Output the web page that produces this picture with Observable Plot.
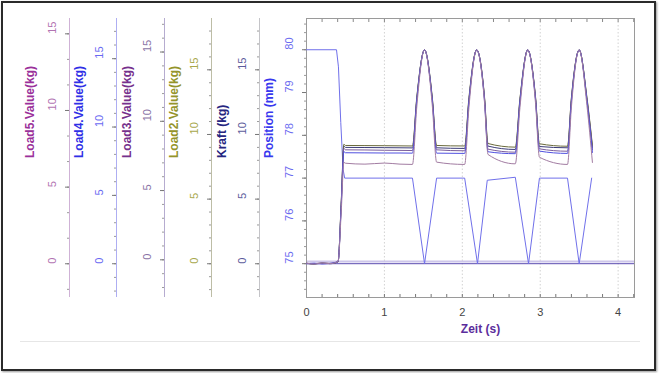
<!DOCTYPE html>
<html><head><meta charset="utf-8">
<script src="https://cdn.jsdelivr.net/npm/d3@7"></script>
<script src="https://cdn.jsdelivr.net/npm/@observablehq/plot@0.6"></script>
<style>
body{margin:0;background:#fff}
#wrap{position:relative;width:659px;height:373px;background:#fff;overflow:hidden}
#wrap svg{position:absolute;left:0;top:0}
#border{position:absolute;left:1px;top:1px;width:655px;height:370px;box-sizing:border-box;border:2px solid #2a2a2a;box-shadow:1px 1px 2px #999;z-index:5}
#sep{position:absolute;left:20px;top:341px;width:620px;height:1px;background:#e6e6e6}
</style>
</head><body>
<div id="wrap"><div id="border"></div><div id="sep"></div></div>
<script>
// ---- data ----
const timeForce = [0, 0.1, 0.2, 0.3, 0.405, 0.445, 0.48, 0.5, 0.75, 1.0, 1.2, 1.36, 1.415, 1.515, 1.615, 1.67, 2.03, 2.085, 2.185, 2.285, 2.33, 2.68, 2.74, 2.84, 2.94, 2.99, 3.35, 3.40, 3.50, 3.60, 3.67];
const kraft = [0.02, -0.03, 0.04, 0.0, 0.15, 4.6, 9.1, 9.0, 8.99, 8.98, 8.97, 8.96, 12.75, 16.54, 12.75, 8.97, 8.92, 12.7, 16.54, 12.8, 9.10, 8.84, 12.7, 16.54, 12.8, 9.07, 8.97, 12.75, 16.54, 12.75, 9.0];
const load2 = [0.03, 0.0, 0.05, 0.02, 0.15, 4.7, 9.25, 9.15, 9.14, 9.13, 9.12, 9.11, 12.85, 16.54, 12.85, 9.15, 9.11, 12.85, 16.54, 12.9, 9.30, 9.02, 12.8, 16.54, 12.9, 9.28, 9.09, 12.85, 16.54, 12.85, 9.15];
const load3 = [-0.25, -0.28, -0.22, -0.26, -0.1, 3.9, 8.05, 7.94, 7.93, 7.91, 7.90, 7.89, 11.5, 15.15, 11.5, 7.94, 7.87, 11.5, 15.15, 11.6, 7.99, 7.77, 11.45, 15.15, 11.6, 8.01, 7.84, 11.5, 15.15, 11.5, 7.96];
const load4 = [0.0, 0.04, -0.02, 0.03, 0.15, 4.1, 8.2, 8.12, 8.11, 8.10, 8.10, 8.09, 11.9, 15.64, 11.9, 8.09, 8.07, 11.85, 15.64, 11.9, 8.19, 8.05, 11.85, 15.64, 11.95, 8.24, 8.07, 11.85, 15.64, 11.9, 8.14];
const load5 = [0.04, -0.02, 0.05, 0.01, 0.15, 3.3, 6.62, 6.56, 6.50, 6.57, 6.50, 6.48, 10.2, 13.95, 10.3, 6.63, 6.48, 10.2, 13.95, 10.5, 7.13, 6.52, 10.2, 13.95, 10.45, 6.95, 6.48, 10.2, 13.95, 10.3, 6.61];
const timePos = [0, 0.385, 0.41, 0.44, 0.47, 0.49, 1.36, 1.515, 1.67, 2.03, 2.195, 2.32, 2.68, 2.85, 2.99, 3.35, 3.50, 3.66];
const position = [80, 80, 79.6, 78.3, 77.2, 77.0, 77.0, 75.0, 77.0, 77.0, 75.0, 76.95, 77.02, 75.0, 77.0, 77.0, 75.0, 77.0];
const posTicks = [75, 76, 77, 78, 79, 80];
const kgTicks = [0, 5, 10, 15];
const timeTicks = [0, 1, 2, 3, 4];
const gridTimes = [1, 2, 3, 4];
const baselines = [75.05, 75.0];
const titles = {x: "Zeit (s)", pos: "Position (mm)", kraft: "Kraft (kg)", load2: "Load2.Value(kg)", load3: "Load3.Value(kg)", load4: "Load4.Value(kg)", load5: "Load5.Value(kg)"};

// ---- layout ----
const W = 659, H = 373, ML = 306, MR = 25, MT = 18, MB = 76;
const xDomain = [0, 4.21];
const font = "'Liberation Sans', Arial, sans-serif";
const wrap = document.getElementById("wrap");

const rows = (ts, vs) => ts.map((t, i) => ({t, v: vs[i]}));
const inDom = (arr, dom) => arr.filter(v => v >= dom[0] && v <= dom[1]);

function yAxisMarks(off, dom, major, minorStep, tickFill, title, titleFill, lineStroke, titleDx) {
  const minor = inDom(d3.range(Math.ceil(dom[0] / minorStep) * minorStep, dom[1], minorStep).map(v => +v.toFixed(3)), dom);
  return [
    Plot.ruleX([0], {dx: off, stroke: lineStroke}),
    Plot.axisY({ticks: minor, tickSize: 2, dx: off, fill: "none", stroke: "#9a9a9a"}),
    Plot.axisY({ticks: major, tickSize: 4, dx: off, fill: "none", stroke: "#777"}),
    Plot.text(major, {y: d => d, text: d => String(d), frameAnchor: "left", dx: off - 17, rotate: -90, fill: tickFill, fontSize: 11}),
    Plot.text([title], {frameAnchor: "left", dx: off + titleDx, rotate: -90, fill: titleFill, fontSize: 12, fontWeight: "bold"})
  ];
}

function layer(yDomain, marks, xAxisNull) {
  const svg = Plot.plot({
    width: W, height: H, marginLeft: ML, marginRight: MR, marginTop: MT, marginBottom: MB,
    x: xAxisNull ? {domain: xDomain, axis: null} : {domain: xDomain},
    y: {domain: yDomain},
    style: {background: "transparent", fontFamily: font, overflow: "visible"},
    marks
  });
  wrap.appendChild(svg);
}

// ---- main (position) layer ----
const posDom = [74.21, 80.73];
const minorT = d3.range(0, 4.21, 0.2).map(v => +v.toFixed(2));
layer(posDom, [
  Plot.ruleX(gridTimes, {stroke: "#d2d2d2", strokeDasharray: "1.5,2"}),
  Plot.ruleY([baselines[0]], {stroke: "#cdc6ea", strokeWidth: 2}),
  Plot.ruleY([baselines[1]], {stroke: "#5a4cb0", strokeWidth: 1}),
  Plot.frame({stroke: "#9a9a9a"}),
  Plot.axisX({ticks: timeTicks, tickFormat: d => String(d), tickSize: 0, tickPadding: 11, label: null, fontSize: 11, fill: "#444"}),
  Plot.axisX({ticks: minorT, tickSize: 3, dy: -3, fill: "none", stroke: "#777"}),
  Plot.axisX({anchor: "top", ticks: minorT, tickSize: 3, dy: 3, fill: "none", stroke: "#888"}),
  Plot.text([titles.x], {frameAnchor: "bottom", dy: 35, dx: 10, fill: "#5b2d9c", fontSize: 12, fontWeight: "bold"}),
  ...yAxisMarks(0, posDom, posTicks, 0.2, "#6c6cf0", titles.pos, "#3838ee", "#9a9a9a", -37),
  Plot.line(rows(timePos, position), {x: "t", y: "v", stroke: "#7070ea", strokeWidth: 1})
]);

// ---- force layers ----
const forceLayers = [
  {dom: [-2.61, 18.97], off: -47, minor: 1, tickFill: "#5c5c9c", title: titles.kraft, titleFill: "#262680", line: "#c4c4c8", vals: kraft, stroke: "#3c3c78", tdx: -37},
  {dom: [-2.61, 18.97], off: -95, minor: 1, tickFill: "#a8a84c", title: titles.load2, titleFill: "#94942a", line: "#bdbda6", vals: load2, stroke: "#6a6a3c", tdx: -37},
  {dom: [-2.72, 17.42], off: -142, minor: 1, tickFill: "#8a74a6", title: titles.load3, titleFill: "#76308c", line: "#b6acd0", vals: load3, stroke: "#7a5c9c", tdx: -37},
  {dom: [-2.47, 17.94], off: -190, minor: 1, tickFill: "#6a6af2", title: titles.load4, titleFill: "#2f2fe6", line: "#aeaef2", vals: load4, stroke: "#5050e0", tdx: -37},
  {dom: [-2.2, 16.0], off: -237, minor: 5 / 3, tickFill: "#b274b2", title: titles.load5, titleFill: "#9a309a", line: "#cfb2d6", vals: load5, stroke: "#a27ca2", tdx: -39}
];
for (const L of forceLayers) {
  layer(L.dom, [
    ...yAxisMarks(L.off, L.dom, kgTicks, L.minor, L.tickFill, L.title, L.titleFill, L.line, L.tdx),
    Plot.line(rows(timeForce, L.vals), {x: "t", y: "v", stroke: L.stroke, strokeWidth: 1, curve: "monotone-x"})
  ], true);
}
</script>
</body></html>
